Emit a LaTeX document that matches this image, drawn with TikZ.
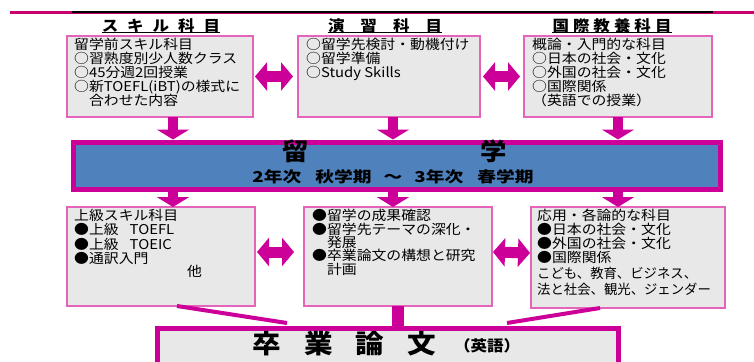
\documentclass[tikz,border=0pt]{standalone}
\usepackage{fontspec}
\usetikzlibrary{arrows.meta}
\setmainfont{Noto Sans CJK JP}[FakeStretch=1.1]
\newfontfamily\jpwide{Noto Sans CJK JP}[FakeStretch=1.25]
\newfontfamily\jpnarrow{Noto Sans CJK JP}[FakeStretch=0.99]
\definecolor{mag}{RGB}{204,0,153}
\definecolor{topmag}{RGB}{200,0,110}
\definecolor{boxline}{RGB}{228,100,188}
\definecolor{boxfill}{RGB}{232,232,232}
\definecolor{barblue}{RGB}{79,129,189}
\tikzset{
  box/.style={draw=boxline, line width=1.2pt, fill=boxfill, anchor=north west, inner sep=0pt, outer sep=0pt},
  boxtext/.style={anchor=north west, inner sep=0pt, align=left, font=\fontsize{13.5}{14}\selectfont},
  heading/.style={anchor=north, inner sep=0pt, font=\fontsize{15}{15}\selectfont\bfseries},
  downarrow/.style={draw=mag, line width=10pt, -{Triangle[width=32pt,length=10pt]}},
  bothways/.style={draw=mag, line width=11pt, {Triangle[width=28pt,length=12pt]}-{Triangle[width=28pt,length=12pt]}},
  funnel/.style={draw=mag, line width=4pt},
}
\begin{document}
\begin{tikzpicture}[x=1pt,y=-1pt]
\useasboundingbox (0,0) rectangle (754,361);
\clip (0,0) rectangle (754,361);
% header rule
\draw[topmag, line width=3pt] (10,12.5) -- (754,12.5);
\draw[black, line width=1.6pt] (72,11.8) -- (713,11.8);
% headings
\node[heading] (h1) at (161,18) {ス\hspace{9pt}キ\hspace{9pt}ル\hspace{9pt}科\hspace{9pt}目};
\node[heading] (h2) at (385,18) {演\hspace{16pt}習\hspace{16pt}科\hspace{16pt}目};
\node[heading] (h3) at (612,18) {国\hspace{4pt}際\hspace{4pt}教\hspace{4pt}養\hspace{4pt}科\hspace{4pt}目};
\foreach \h in {h1,h2,h3} \draw[line width=1.3pt] (\h.south west) -- (\h.south east);
% top boxes
\node[box, minimum width=186pt, minimum height=81pt] (b1) at (67,36) {};
\node[box, minimum width=182pt, minimum height=81pt] (b2) at (298,36) {};
\node[box, minimum width=188pt, minimum height=81pt] (b3) at (524,36) {};
\node[boxtext] (t1) at (74,37.5) {留学前スキル科目\\○習熟度別少人数クラス\\○45分週2回授業\\○新TOEFL(iBT)の様式に\\　合わせた内容};
\node[boxtext] (t2) at (306,37.5) {○留学先検討・動機付け\\○留学準備\\○Study Skills};
\node[boxtext] (t3) at (532,37.5) {概論・入門的な科目\\○日本の社会・文化\\○外国の社会・文化\\○国際関係\\（英語での授業）};
% blue bar
\node[draw=mag, line width=5pt, fill=barblue, anchor=north west, inner sep=0pt, outer sep=2.5pt,
      minimum width=647pt, minimum height=47pt] (bar) at (70.5,139.5) {};
\node[inner sep=0pt, font=\fontsize{24}{24}\selectfont\bfseries] (ryu) at (394.5,151) {留\hspace{172pt}学};
\node[inner sep=0pt, font=\jpwide\fontsize{15}{15}\selectfont\bfseries] (period) at (393,177) {2年次\hspace{14pt}秋学期\hspace{12pt}～\hspace{12pt}3年次\hspace{14pt}春学期};
% bottom boxes
\node[box, minimum width=188pt, minimum height=99pt] (b4) at (67,207) {};
\node[box, minimum width=188pt, minimum height=99pt] (b5) at (304,207) {};
\node[box, minimum width=194pt, minimum height=101pt] (b6) at (531,207) {};
\node[boxtext] (t4) at (74,209) {上級スキル科目\\●上級\hspace{11pt}TOEFL\\[1pt]●上級\hspace{11pt}TOEIC\\●通訳入門\\[-1pt]\hspace*{113pt}他};
\node[boxtext, font=\fontsize{13.5}{13.4}\selectfont] (t5) at (312,209) {●留学の成果確認\\●留学先テーマの深化・\\　発展\\●卒業論文の構想と研究\\　計画};
\node[boxtext] (t6) at (537,209) {応用・各論的な科目\\●日本の社会・文化\\●外国の社会・文化\\●国際関係\\[1.5pt]{\jpnarrow こども、教育、ビジネス、}\\[2.5pt]{\jpnarrow 法と社会、観光、ジェンダー}};
% thesis box
\node[draw=mag, line width=5pt, fill=boxfill, anchor=north west, inner sep=0pt, outer sep=2.5pt,
      minimum width=461pt, minimum height=60pt] (thesis) at (154.5,325.5) {};
\node[inner sep=0pt, font=\fontsize{26}{26}\selectfont\bfseries] (sotsu) at (344.5,344) {卒\hspace{23pt}業\hspace{23pt}論\hspace{23pt}文};
\node[inner sep=0pt, font=\fontsize{15}{15}\selectfont\bfseries] (eigo) at (487,346) {（英語）};
% arrows top boxes -> bar
\draw[downarrow] ([xshift=13pt]b1.south) -- ([xshift=13pt]b1.south |- bar.north);
\draw[downarrow] ([xshift=4pt]b2.south) -- ([xshift=4pt]b2.south |- bar.north);
\draw[downarrow] (b3.south) -- (b3.south |- bar.north);
% arrows bar -> bottom boxes
\draw[downarrow] ([xshift=12pt]b4.north |- bar.south) -- ([xshift=12pt]b4.north);
\draw[downarrow] ([xshift=-5pt]b5.north |- bar.south) -- ([xshift=-5pt]b5.north);
\draw[downarrow] ([xshift=-10pt]b6.north |- bar.south) -- ([xshift=-10pt]b6.north);
% double arrows
\draw[bothways] ([xshift=2pt]b1.east) -- ([xshift=-5pt]b2.west);
\draw[bothways] ([xshift=3pt]b2.east) -- ([xshift=-4pt]b3.west);
\draw[bothways] ([xshift=2pt,yshift=4.5pt]b4.east) -- ([xshift=-10pt,yshift=4.5pt]b5.west);
\draw[bothways] ([xshift=1pt,yshift=4.5pt]b5.east) -- ([xshift=-1pt,yshift=4.5pt]b6.west);
% funnel to thesis
\coordinate (f1) at (287,323);
\coordinate (f3) at (507,323);
\draw[funnel] ([xshift=16pt]b4.south) -- (f1);
\draw[draw=mag, line width=12pt] (b5.south) -- (b5.south |- thesis.north);
\draw[funnel] ([xshift=-28pt]b6.south) -- (f3);
\end{tikzpicture}
\end{document}
